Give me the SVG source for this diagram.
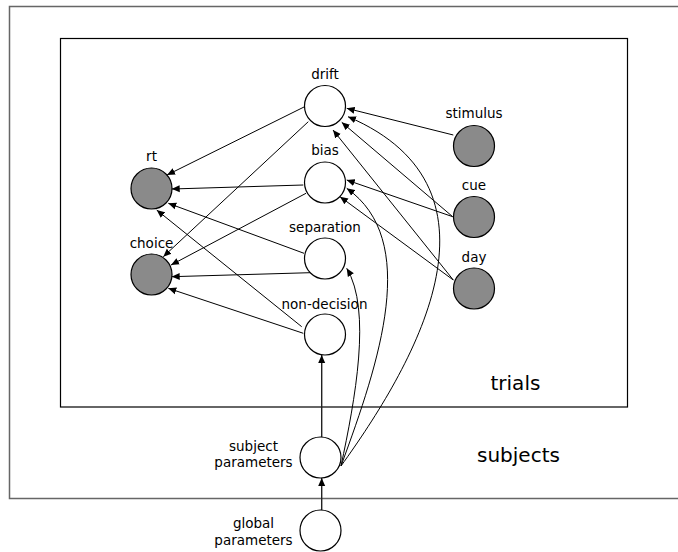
<svg xmlns="http://www.w3.org/2000/svg" width="678" height="552" viewBox="0 0 678 552">
<style>
.lbl{font-family:"DejaVu Sans","Liberation Sans",sans-serif;font-size:13.5px;fill:#000;text-anchor:middle}
.big{font-family:"DejaVu Sans","Liberation Sans",sans-serif;font-size:20px;fill:#000}
.lat{fill:#fff;stroke:#000;stroke-width:1.2}
.obs{fill:#8a8a8a;stroke:#000;stroke-width:1.2}
.e{fill:none;stroke:#000;stroke-width:1;marker-end:url(#ah)}
.v{fill:none;stroke:#222;stroke-width:1.4;marker-end:url(#ah)}
</style>
<defs>
<marker id="ah" viewBox="0 0 8 8" refX="8" refY="4" markerWidth="8" markerHeight="8" markerUnits="userSpaceOnUse" orient="auto">
<path d="M0,0.5 L8,4 L0,7.5 z" fill="#000"/>
</marker>
</defs>
<rect width="678" height="552" fill="#fff"/>
<g id="plate-subjects">
<rect x="9.5" y="6.5" width="700" height="492" fill="none" stroke="#666" stroke-width="1.5"/>
<text class="big" x="477" y="461.5">subjects</text>
</g>
<g id="plate-trials">
<rect x="60.5" y="38.5" width="567" height="368.5" fill="none" stroke="#000" stroke-width="1.2"/>
<text class="big" x="490.5" y="390">trials</text>
</g>
<g id="connectors">
<line class="e" x1="304" y1="107" x2="167" y2="175"/>
<line class="e" x1="308.3" y1="121.7" x2="163.3" y2="256.7"/>
<line class="e" x1="303.3" y1="185" x2="171.7" y2="189"/>
<line class="e" x1="306" y1="193.3" x2="171" y2="265"/>
<line class="e" x1="304" y1="253.3" x2="168.3" y2="203.3"/>
<line class="e" x1="310" y1="272.7" x2="171.7" y2="276.7"/>
<line class="e" x1="301.7" y1="326.7" x2="156.7" y2="210"/>
<line class="e" x1="303.3" y1="333.3" x2="168.3" y2="288.3"/>
<line class="e" x1="453.3" y1="135" x2="346.7" y2="108.3"/>
<line class="e" x1="452.7" y1="216.7" x2="341.7" y2="122.3"/>
<line class="e" x1="452.7" y1="216.7" x2="346.7" y2="180"/>
<line class="e" x1="453.3" y1="280" x2="333" y2="130"/>
<line class="e" x1="453.3" y1="280" x2="340" y2="196.7"/>
<path class="e" d="M341,466 C355,400 372,310 346.7,268.3"/>
<path class="e" d="M341,466 C380,360 420,240 346.7,188.3"/>
<path class="e" d="M341,466 C410,370 520,190 348,116.7"/>
<line class="v" x1="321.7" y1="437" x2="321.7" y2="355"/>
<line class="v" x1="321.7" y1="510" x2="321.7" y2="478"/>
</g>
<g id="drift"><circle class="lat" cx="325" cy="106" r="20.5"/><text class="lbl" x="325" y="79">drift</text></g>
<g id="bias"><circle class="lat" cx="325" cy="182.5" r="20.5"/><text class="lbl" x="325" y="155">bias</text></g>
<g id="separation"><circle class="lat" cx="325" cy="258.5" r="20.5"/><text class="lbl" x="325" y="232">separation</text></g>
<g id="non-decision"><circle class="lat" cx="325" cy="334.5" r="20.5"/><text class="lbl" x="324.5" y="309">non-decision</text></g>
<g id="rt"><circle class="obs" cx="151.5" cy="188.5" r="20.5"/><text class="lbl" x="151.5" y="161">rt</text></g>
<g id="choice"><circle class="obs" cx="151.5" cy="274.5" r="20.5"/><text class="lbl" x="151.5" y="248">choice</text></g>
<g id="stimulus"><circle class="obs" cx="474" cy="146" r="20.5"/><text class="lbl" x="474" y="118">stimulus</text></g>
<g id="cue"><circle class="obs" cx="474" cy="217" r="20.5"/><text class="lbl" x="474" y="190">cue</text></g>
<g id="day"><circle class="obs" cx="474" cy="288.5" r="20.5"/><text class="lbl" x="474" y="262">day</text></g>
<g id="subject-parameters"><circle class="lat" cx="320.5" cy="457.5" r="20.5"/><text class="lbl" x="253.5" y="450.5">subject</text><text class="lbl" x="253.5" y="467">parameters</text></g>
<g id="global-parameters"><circle class="lat" cx="320.5" cy="530.5" r="20.5"/><text class="lbl" x="253.5" y="528">global</text><text class="lbl" x="253.5" y="545">parameters</text></g>
</svg>
